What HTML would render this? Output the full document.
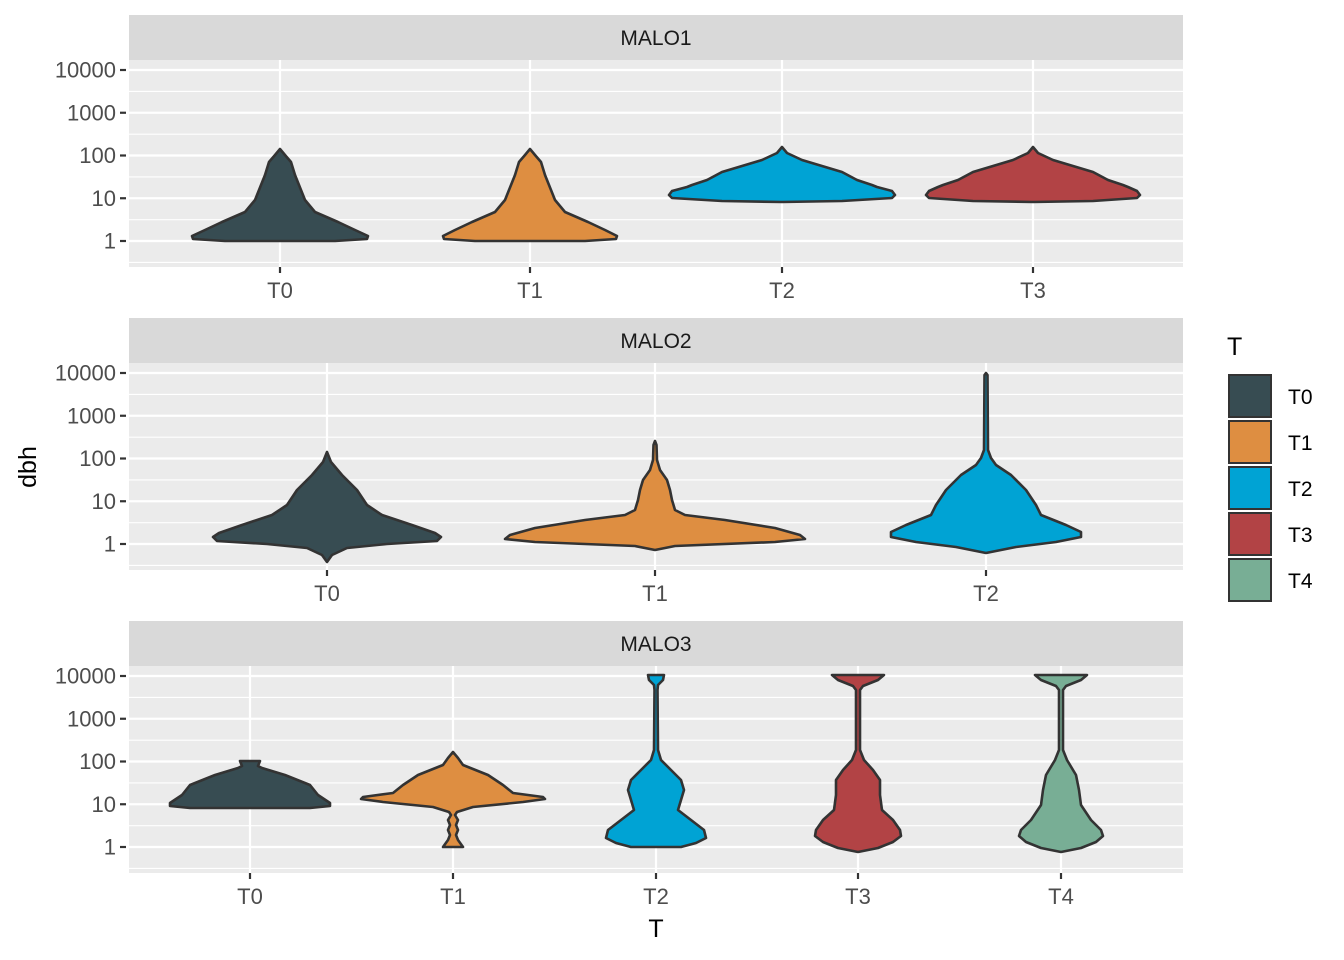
<!DOCTYPE html>
<html><head><meta charset="utf-8"><style>body{margin:0;background:#fff}svg{display:block}text{font-family:"Liberation Sans",sans-serif}</style></head>
<body>
<svg id="s" width="1344" height="960" xmlns="http://www.w3.org/2000/svg"></svg>
<script>
const s=document.getElementById('s');let h='';
const C={T0:'#374C52',T1:'#DE8E41',T2:'#00A3D4',T3:'#B24345',T4:'#78AE95'};
const panels=[
 {name:'MALO1',top:15,xs:{T0:280,T1:530,T2:782,T3:1033}},
 {name:'MALO2',top:318,xs:{T0:327,T1:655,T2:986}},
 {name:'MALO3',top:621,xs:{T0:250,T1:453,T2:656,T3:858,T4:1061}}];
panels.forEach(p=>{
 const t=p.top,pt=t+45,pb=t+252;
 h+=`<rect x="129" y="${t}" width="1054" height="45" fill="#d9d9d9"/>`;
 h+=`<text x="656" y="${t+30}" font-size="21" text-anchor="middle" fill="#1a1a1a">${p.name}</text>`;
 h+=`<rect x="129" y="${pt}" width="1054" height="207" fill="#ebebeb"/>`;
 const y0=t+55;
 for(let i=-1;i<5;i++){const y=y0+i*42.75+21.4;if(y>pt&&y<pb)h+=`<line x1="129" x2="1183" y1="${y}" y2="${y}" stroke="#fff" stroke-width="1.1"/>`;}
 ['10000','1000','100','10','1'].forEach((l,i)=>{const y=y0+i*42.75;
  h+=`<line x1="129" x2="1183" y1="${y}" y2="${y}" stroke="#fff" stroke-width="2.2"/>`;
  h+=`<line x1="120" x2="126" y1="${y}" y2="${y}" stroke="#333" stroke-width="2.2"/>`;
  h+=`<text x="116" y="${y+7.5}" font-size="22" text-anchor="end" fill="#4d4d4d">${l}</text>`;});
 for(const k in p.xs){const x=p.xs[k];
  h+=`<line x1="${x}" x2="${x}" y1="${pt}" y2="${pb}" stroke="#fff" stroke-width="2.2"/>`;
  h+=`<line x1="${x}" x2="${x}" y1="${pb}" y2="${pb+6}" stroke="#333" stroke-width="2.2"/>`;
  h+=`<text x="${x}" y="${pb+31}" font-size="22" text-anchor="middle" fill="#4d4d4d">${k}</text>`;}
});
const V=[
 [280,'T0',[[149,0],[155,5],[162,11],[175,15],[190,21],[200,25],[212,35],[222,58],[230,75],[236,88],[239,87],[241,55],[241,0]]],
 [530,'T1',[[149,0],[155,5],[162,11],[175,15],[190,21],[200,25],[212,35],[222,58],[230,75],[236,87],[239,86],[241,55],[241,0]]],
 [782,'T2',[[147,0],[153,5],[160,20],[166,40],[172,60],[180,75],[185,90],[187,95],[191,110],[195,113],[198,110],[201,60],[202,0]]],
 [1033,'T3',[[147,0],[153,5],[160,20],[166,40],[172,60],[180,75],[185,90],[187,95],[191,104],[195,107],[198,104],[201,60],[202,0]]],
 [327,'T0',[[452,0],[462,4],[475,15],[490,30],[505,40],[515,55],[525,85],[533,108],[537,114],[541,110],[544,60],[548,20],[555,5],[562,0]]],
 [655,'T1',[[441,0],[445,1.5],[460,2],[470,5],[480,12],[490,15],[500,17],[510,20],[515,30],[520,70],[528,120],[535,145],[539,150],[542,120],[546,20],[550,0]]],
 [986,'T2',[[373,0],[375,1.5],[450,2],[458,5],[465,10],[475,25],[490,40],[505,50],[515,55],[525,80],[532,95],[537,95],[542,70],[547,30],[553,0]]],
 [250,'T0',[[761,10],[766,8],[768,12],[775,35],[785,60],[795,68],[803,80],[806,80],[808,60],[808,0]]],
 [453,'T1',[[752,0],[758,5],[765,10],[775,35],[785,50],[793,60],[797,90],[799,92],[802,70],[807,20],[812,4],[815,2],[820,5],[825,3],[830,5],[835,3],[840,5],[847,10],[847,0]]],
 [656,'T2',[[675,8],[680,7],[685,2],[690,1.5],[750,2],[760,5],[770,15],[780,25],[790,28],[800,25],[810,22],[820,35],[830,48],[838,50],[843,40],[847,25],[847,0]]],
 [858,'T3',[[675,26],[680,20],[686,5],[690,2],[750,2],[760,6],[770,15],[780,22],[795,22],[810,24],[820,35],[830,42],[836,43],[842,35],[848,20],[852,0]]],
 [1061,'T4',[[675,26],[680,20],[686,5],[690,2],[750,2],[760,6],[775,15],[790,18],[805,20],[820,30],[830,40],[836,42],[842,35],[848,20],[852,0]]]];
V.forEach(([cx,k,pts])=>{
 let r=pts.map(([y,w])=>`${(cx+w).toFixed(1)},${y}`);
 let l=pts.slice().reverse().map(([y,w])=>`${(cx-w).toFixed(1)},${y}`);
 h+=`<polygon points="${r.concat(l).join(' ')}" fill="${C[k]}" stroke="#333" stroke-width="2.6" stroke-linejoin="round"/>`;
});
h+=`<text x="36" y="467" font-size="25" text-anchor="middle" transform="rotate(-90 36 467)" fill="#000">dbh</text>`;
h+=`<text x="656" y="937" font-size="25" text-anchor="middle" fill="#000">T</text>`;
h+=`<text x="1227" y="355" font-size="25" fill="#000">T</text>`;
['T0','T1','T2','T3','T4'].forEach((k,i)=>{const y=375+i*46;
 h+=`<rect x="1229" y="${y}" width="42" height="42" fill="${C[k]}" stroke="#333" stroke-width="2"/>`;
 h+=`<text x="1288" y="${y+29}" font-size="21" fill="#000">${k}</text>`;});
s.innerHTML=h;
</script>
</body></html>
